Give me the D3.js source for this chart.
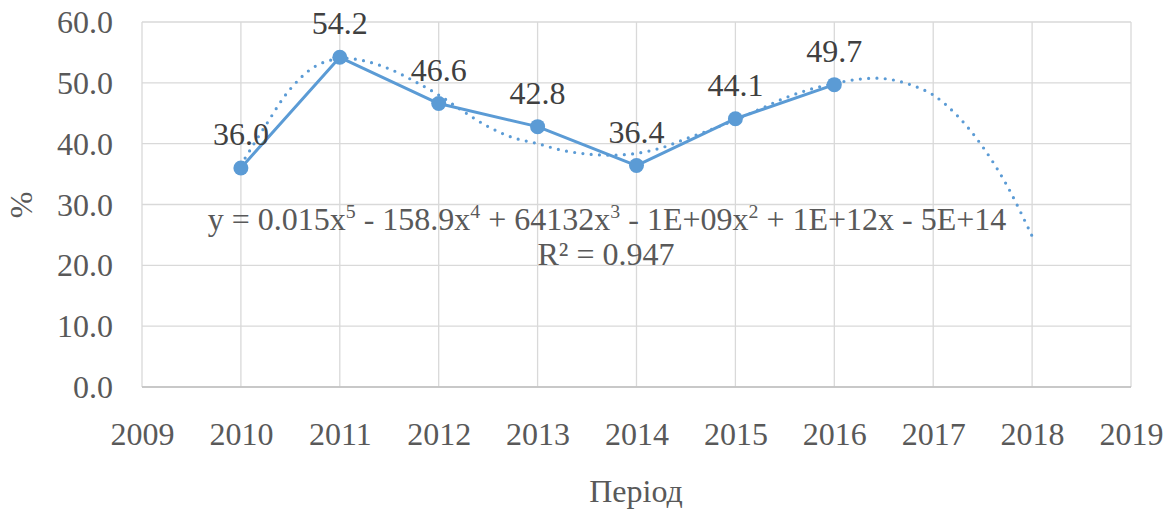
<!DOCTYPE html>
<html><head><meta charset="utf-8">
<script src="https://cdn.jsdelivr.net/npm/d3@7"></script>
<style>
html,body{margin:0;padding:0;background:#fff;}
svg{display:block;font-family:"Liberation Serif","Times New Roman",serif;}
</style></head>
<body><svg id="c" width="1171" height="509"></svg>
<script>
const years = [2010, 2011, 2012, 2013, 2014, 2015, 2016];
const values = [36.0, 54.2, 46.6, 42.8, 36.4, 44.1, 49.7];
const xTicks = [2009, 2010, 2011, 2012, 2013, 2014, 2015, 2016, 2017, 2018, 2019];
const yTicks = [0, 10, 20, 30, 40, 50, 60];
// trendline (5th-order polynomial)
const trendX = [2010, 2010.25, 2010.5, 2010.75, 2011, 2011.25, 2011.5, 2011.75, 2012, 2012.25, 2012.5, 2012.75, 2013, 2013.25, 2013.5, 2013.75, 2014, 2014.25, 2014.5, 2014.75, 2015, 2015.25, 2015.5, 2015.75, 2016, 2016.25, 2016.5, 2016.75, 2017, 2017.25, 2017.5, 2017.75, 2018];
const trendY = [36.5, 43.0, 49.0, 52.7, 54.0, 53.6, 52.3, 50.3, 48.0, 45.3, 42.8, 41.0, 40.0, 38.9, 38.3, 38.1, 38.4, 39.3, 40.8, 42.3, 43.9, 45.7, 47.5, 48.9, 49.9, 50.6, 50.7, 49.8, 48.0, 44.5, 39.5, 33.0, 24.8];
const equation = ["y = 0.015x", "5", " - 158.9x", "4", " + 64132x", "3", " - 1E+09x", "2", " + 1E+12x - 5E+14"];
const rSquared = "R² = 0.947";
const xTitle = "Період";
const yTitle = "%";

const svg = d3.select("#c");
const L = 142, R = 1131, T = 22, B = 387;
const x = d3.scaleLinear().domain([2009, 2019]).range([L, R]);
const y = d3.scaleLinear().domain([0, 60]).range([B, T]);
const color = "#5b9bd5";
const fs = 32;
const ff = "Liberation Serif";

// gridlines
svg.append("g").selectAll("line").data(yTicks).join("line")
  .attr("x1", L).attr("x2", R).attr("y1", d => y(d)).attr("y2", d => y(d))
  .attr("stroke", "#d9d9d9").attr("stroke-width", 1.3);
svg.append("g").selectAll("line").data(xTicks).join("line")
  .attr("x1", d => x(d)).attr("x2", d => x(d)).attr("y1", T).attr("y2", B)
  .attr("stroke", "#d9d9d9").attr("stroke-width", 1.3);
// bottom axis line
svg.append("line").attr("x1", L).attr("x2", R).attr("y1", B).attr("y2", B)
  .attr("stroke", "#bfbfbf").attr("stroke-width", 1.5);

// axis labels via d3 axes
const yAxis = svg.append("g").attr("transform", `translate(${L},0)`)
  .call(d3.axisLeft(y).tickValues(yTicks).tickFormat(d3.format(".1f")).tickSize(0).tickPadding(29));
const xAxis = svg.append("g").attr("transform", `translate(0,${B})`)
  .call(d3.axisBottom(x).tickValues(xTicks).tickFormat(d3.format("d")).tickSize(0).tickPadding(35));
[yAxis, xAxis].forEach(a => {
  a.select(".domain").remove();
  a.attr("font-family", ff).attr("font-size", fs);
  a.selectAll("text").attr("font-family", ff).attr("font-size", fs).attr("fill", "#595959");
});
yAxis.selectAll("text").attr("dy", "0.33em");

// trendline
svg.append("path")
  .datum(trendX.map((d, i) => [d, trendY[i]]))
  .attr("d", d3.line().x(d => x(d[0])).y(d => y(d[1])).curve(d3.curveCatmullRom))
  .attr("fill", "none").attr("stroke", color).attr("stroke-width", 3.2)
  .attr("stroke-linecap", "round").attr("stroke-dasharray", "0,8.3");

// data line
svg.append("path")
  .datum(years.map((d, i) => [d, values[i]]))
  .attr("d", d3.line().x(d => x(d[0])).y(d => y(d[1])))
  .attr("fill", "none").attr("stroke", color).attr("stroke-width", 3).attr("stroke-linejoin", "round");
svg.append("g").selectAll("circle").data(years).join("circle")
  .attr("cx", d => x(d)).attr("cy", (d, i) => y(values[i])).attr("r", 7.5).attr("fill", color);

// data labels
svg.append("g").selectAll("text").data(years).join("text")
  .attr("x", d => x(d)).attr("y", (d, i) => y(values[i]) - 23)
  .attr("text-anchor", "middle").attr("font-family", ff).attr("font-size", fs).attr("fill", "#404040")
  .text((d, i) => values[i].toFixed(1));

// equation
const eq = svg.append("text").attr("x", 607).attr("y", 230).attr("text-anchor", "middle")
  .attr("font-family", ff).attr("font-size", fs).attr("fill", "#595959");
equation.forEach((s, i) => {
  const t = eq.append("tspan").text(s);
  if (i % 2 === 1) t.attr("font-size", fs * 0.62).attr("dy", -12);
  else if (i > 0) t.attr("dy", 12);
});
svg.append("text").attr("x", 606).attr("y", 265).attr("text-anchor", "middle")
  .attr("font-family", ff).attr("font-size", fs).attr("fill", "#595959").text(rSquared);

// titles
svg.append("text").attr("x", 636).attr("y", 502).attr("text-anchor", "middle")
  .attr("font-family", ff).attr("font-size", fs).attr("fill", "#595959").text(xTitle);
svg.append("text").attr("transform", "translate(32,205) rotate(-90)").attr("text-anchor", "middle")
  .attr("font-family", ff).attr("font-size", fs).attr("fill", "#595959").text(yTitle);
</script></body></html>
